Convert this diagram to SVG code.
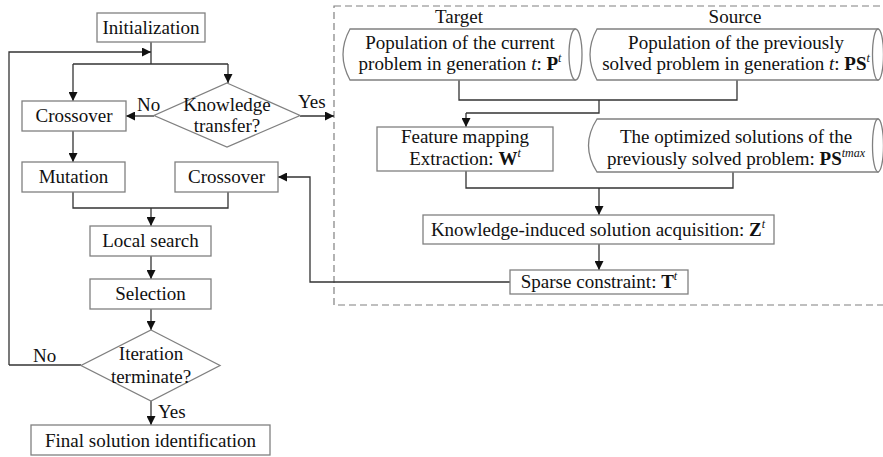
<svg xmlns="http://www.w3.org/2000/svg" width="883" height="457" viewBox="0 0 883 457" font-family="'Liberation Serif', Tinos, 'Times New Roman', serif">
<style>
text{font-family:"Liberation Serif",Tinos,"Times New Roman",serif;font-size:19px;fill:#111}
.c{text-anchor:middle}
.box{fill:#fff;stroke:#808080;stroke-width:1.3}
.ln{fill:none;stroke:#333;stroke-width:1.3}
.ar{fill:none;stroke:#333;stroke-width:1.3;marker-end:url(#ah)}
.dash{fill:none;stroke:#808080;stroke-width:1.2;stroke-dasharray:7,4}
.b{font-weight:bold}
.i{font-style:italic}
.sup{font-size:12px;font-style:italic}
</style>
<defs>
<marker id="ah" viewBox="0 0 10 10" refX="10" refY="5" markerWidth="9" markerHeight="9" markerUnits="userSpaceOnUse" orient="auto">
<path d="M0,0 L10,5 L0,10 z" fill="#111"/>
</marker>
</defs>
<rect class="dash" x="334" y="6" width="560" height="299"/>
<g id="connectors">
<path class="ar" d="M9,365 L9,52 L151,52"/>
<path class="ln" d="M151,42 L151,64"/>
<path class="ln" d="M73,64 L228,64"/>
<path class="ar" d="M73,64 L73,101"/>
<path class="ar" d="M228,64 L228,83"/>
<path class="ar" d="M154,116 L126,116"/>
<path class="ar" d="M300,116 L334,116"/>
<path class="ar" d="M73,131 L73,162"/>
<path class="ln" d="M73,192 L73,208 L228,208 L228,192"/>
<path class="ar" d="M151,208 L151,226"/>
<path class="ar" d="M151,256 L151,279"/>
<path class="ar" d="M151,309 L151,330"/>
<path class="ln" d="M81,365 L9,365"/>
<path class="ar" d="M151,401 L151,425"/>
<path class="ln" d="M459,80 L459,100 L737,100 L737,80"/>
<path class="ln" d="M599,100 L599,113 L466,113"/>
<path class="ar" d="M466,113 L466,127"/>
<path class="ln" d="M466,171 L466,188 L733,188 L733,172"/>
<path class="ar" d="M599,188 L599,215"/>
<path class="ar" d="M599,244 L599,270"/>
<path class="ar" d="M510,282 L310,282 L310,177 L278,177"/>
</g>
<g id="initialization">
<rect class="box" x="97" y="13" width="108" height="29"/>
<text class="c" x="151" y="34">Initialization</text>
</g>
<g id="crossover1">
<rect class="box" x="22" y="101" width="104" height="30"/>
<text class="c" x="74" y="122">Crossover</text>
</g>
<g id="knowledge-transfer">
<polygon class="box" points="227,83 300,115.5 227,147 154,115.5"/>
<text class="c" x="227" y="111">Knowledge</text>
<text class="c" x="227" y="132">transfer?</text>
<text x="137" y="111">No</text>
<text x="298" y="108">Yes</text>
</g>
<g id="mutation">
<rect class="box" x="22" y="162" width="103" height="30"/>
<text class="c" x="73.5" y="183">Mutation</text>
</g>
<g id="crossover2">
<rect class="box" x="175" y="162" width="103" height="30"/>
<text class="c" x="226.5" y="183">Crossover</text>
</g>
<g id="local-search">
<rect class="box" x="90" y="226" width="121" height="30"/>
<text class="c" x="150.5" y="247">Local search</text>
</g>
<g id="selection">
<rect class="box" x="90" y="279" width="121" height="30"/>
<text class="c" x="150.5" y="300">Selection</text>
</g>
<g id="iteration">
<polygon class="box" points="151,330 220,365.5 151,401 81,365.5"/>
<text class="c" x="151" y="360">Iteration</text>
<text class="c" x="151" y="383">terminate?</text>
<text x="33" y="362">No</text>
<text x="158" y="418">Yes</text>
</g>
<g id="final">
<rect class="box" x="31" y="425" width="239" height="30"/>
<text class="c" x="150.5" y="447">Final solution identification</text>
</g>
<g id="target-population">
<text class="c" x="459" y="23">Target</text>
<path class="box" d="M350,29 L575,29 L575,80 L350,80 Q336,54.5 350,29 z"/>
<ellipse class="box" cx="575.5" cy="54.5" rx="6.5" ry="25.5"/>
<text class="c" x="460" y="49">Population of the current</text>
<text class="c" x="460" y="70">problem in generation <tspan class="i">t</tspan>: <tspan class="b">P</tspan><tspan class="sup" dy="-8">t</tspan></text>
</g>
<g id="source-population">
<text class="c" x="735" y="23">Source</text>
<path class="box" d="M597,29 L878,29 L878,80 L597,80 Q583,54.5 597,29 z"/>
<ellipse class="box" cx="878" cy="54.5" rx="5.5" ry="25.5"/>
<text class="c" x="736" y="49">Population of the previously</text>
<text class="c" x="736" y="70">solved problem in generation <tspan class="i">t</tspan>: <tspan class="b">PS</tspan><tspan class="sup" dy="-8">t</tspan></text>
</g>
<g id="feature-mapping">
<rect class="box" x="377" y="127" width="176" height="44"/>
<text class="c" x="465" y="143">Feature mapping</text>
<text class="c" x="465" y="165">Extraction: <tspan class="b">W</tspan><tspan class="sup" dy="-8">t</tspan></text>
</g>
<g id="optimized-solutions">
<path class="box" d="M597,119 L878,119 L878,172 L597,172 Q580,145.5 597,119 z"/>
<ellipse class="box" cx="878" cy="145.5" rx="5.5" ry="26.5"/>
<text class="c" x="736" y="143">The optimized solutions of the</text>
<text class="c" x="736" y="165">previously solved problem: <tspan class="b">PS</tspan><tspan class="sup" dy="-8">tmax</tspan></text>
</g>
<g id="knowledge-induced">
<rect class="box" x="423" y="215" width="351" height="29"/>
<text class="c" x="598" y="236">Knowledge-induced solution acquisition: <tspan class="b">Z</tspan><tspan class="sup" dy="-8">t</tspan></text>
</g>
<g id="sparse-constraint">
<rect class="box" x="510" y="270" width="178" height="24"/>
<text class="c" x="599" y="288">Sparse constraint: <tspan class="b">T</tspan><tspan class="sup" dy="-8">t</tspan></text>
</g>
</svg>
